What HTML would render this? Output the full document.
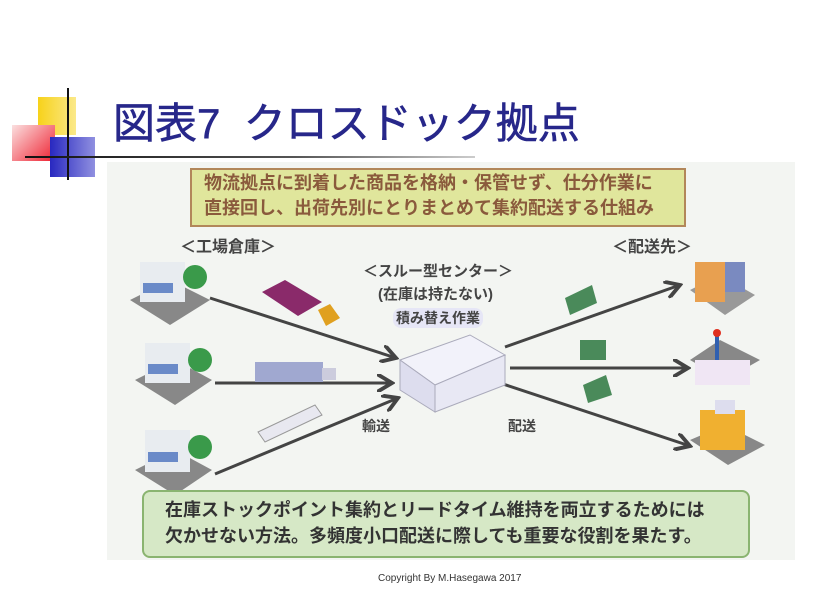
<!DOCTYPE html>
<html><head><meta charset="utf-8"><style>
body{margin:0;width:823px;height:604px;background:#fff;position:relative;overflow:hidden;font-family:"Liberation Sans","Noto Sans CJK JP",sans-serif}
.a{position:absolute}
.t{font-weight:bold;color:#444;font-size:15px;white-space:nowrap}
</style></head><body>
<div class="a" style="left:38px;top:97px;width:38px;height:38px;background:linear-gradient(90deg,#f7d21a,#fbe98a)"></div>
<div class="a" style="left:12px;top:125px;width:43px;height:36px;background:linear-gradient(135deg,#fbe0e0,#ee2030)"></div>
<div class="a" style="left:50px;top:137px;width:45px;height:40px;background:linear-gradient(90deg,#2828c0,#9090e0)"></div>
<div class="a" style="left:67px;top:88px;width:2px;height:92px;background:#111"></div>
<div class="a" style="left:25px;top:156px;width:450px;height:2px;background:linear-gradient(90deg,#111,#555 60%,#ccc)"></div>
<div class="a" style="left:113px;top:90px;font-size:42px;color:#27278a;white-space:nowrap;-webkit-text-stroke:0.6px #27278a">図表7&nbsp; クロスドック拠点</div>
<div class="a" style="left:107px;top:162px;width:688px;height:398px;background:#f3f5f2"></div>
<div class="a" style="left:190px;top:168px;width:492px;height:55px;background:#e0e69c;border:2px solid #b2875a"></div>
<div class="a t" style="left:204px;top:171px;font-size:18px;color:#8a5a3c;line-height:25px">物流拠点に到着した商品を格納・保管せず、仕分作業に<br>直接回し、出荷先別にとりまとめて集約配送する仕組み</div>
<div class="a t" style="left:180px;top:233px;font-size:16px">＜工場倉庫＞</div>
<div class="a t" style="left:612px;top:233px;font-size:16px">＜配送先＞</div>
<div class="a t" style="left:363px;top:260px">＜スルー型センター＞</div>
<div class="a t" style="left:378px;top:283px">(在庫は持たない)</div>
<div class="a t" style="left:393px;top:308px;font-size:14px;background:#e6e6f6;border-radius:8px;padding:0 3px">積み替え作業</div>
<div class="a t" style="left:362px;top:416px;font-size:14px">輸送</div>
<div class="a t" style="left:508px;top:416px;font-size:14px">配送</div>
<svg class="a" style="left:0;top:0" width="823" height="604">
<defs><marker id="m" markerWidth="6" markerHeight="6" refX="5" refY="3" orient="auto"><path d="M0,0 L5,3 L0,6" fill="none" stroke="#444" stroke-width="1.3"/></marker></defs>
<g stroke="#444" stroke-width="3" marker-end="url(#m)">
<line x1="210" y1="298" x2="396" y2="358"/><line x1="215" y1="383" x2="392" y2="383"/><line x1="215" y1="474" x2="398" y2="398"/>
<line x1="505" y1="347" x2="680" y2="285"/><line x1="510" y1="368" x2="688" y2="368"/><line x1="500" y1="383" x2="690" y2="446"/>
</g>
<g>
<polygon points="130,300 170,280 210,300 170,325" fill="#888"/><rect x="140" y="262" width="45" height="40" fill="#e8ecf0"/><rect x="143" y="283" width="30" height="10" fill="#6a8ac8"/><circle cx="195" cy="277" r="12" fill="#3a9a4a"/>
<polygon points="135,380 175,360 212,380 175,405" fill="#888"/><rect x="145" y="343" width="45" height="40" fill="#e8ecf0"/><rect x="148" y="364" width="30" height="10" fill="#6a8ac8"/><circle cx="200" cy="360" r="12" fill="#3a9a4a"/>
<polygon points="135,470 175,450 212,470 175,495" fill="#888"/><rect x="145" y="430" width="45" height="42" fill="#e8ecf0"/><rect x="148" y="452" width="30" height="10" fill="#6a8ac8"/><circle cx="200" cy="447" r="12" fill="#3a9a4a"/>
<polygon points="262,292 285,280 322,302 298,316" fill="#8a2a6a"/><polygon points="318,310 330,304 340,318 326,326" fill="#e0a020"/>
<rect x="255" y="362" width="68" height="20" fill="#a0a8d0"/><rect x="322" y="368" width="14" height="12" fill="#ccd"/>
<polygon points="258,432 315,405 322,415 265,442" fill="#e8e8f0" stroke="#999"/>
<polygon points="565,298 592,285 597,303 570,315" fill="#4a8a5a"/><rect x="580" y="340" width="26" height="20" fill="#4a8a5a"/><polygon points="583,385 606,375 612,395 588,403" fill="#4a8a5a"/>
<polygon points="400,360 470,335 505,355 435,385" fill="#f2f2fa" stroke="#aab"/><polygon points="400,360 435,385 435,412 400,390" fill="#dde" stroke="#aab"/><polygon points="435,385 505,355 505,385 435,412" fill="#e8e8f4" stroke="#aab"/>
<polygon points="690,290 720,275 755,295 725,315" fill="#999"/><rect x="695" y="262" width="30" height="40" fill="#e8a050"/><rect x="725" y="262" width="20" height="30" fill="#7a8ac0"/>
<polygon points="690,360 720,340 760,360 725,380" fill="#888"/><rect x="695" y="360" width="55" height="25" fill="#f0e6f4"/><rect x="715" y="335" width="4" height="25" fill="#3060b0"/><circle cx="717" cy="333" r="4" fill="#e03020"/>
<polygon points="690,440 725,425 765,445 728,465" fill="#888"/><rect x="700" y="410" width="45" height="40" fill="#f0b030"/><rect x="715" y="400" width="20" height="14" fill="#dde"/>
</g>
</svg>
<div class="a" style="left:142px;top:490px;width:604px;height:64px;background:#d6e8c6;border:2px solid #8ab470;border-radius:8px"></div>
<div class="a t" style="left:165px;top:497px;font-size:18px;color:#333;line-height:26px">在庫ストックポイント集約とリードタイム維持を両立するためには<br>欠かせない方法。多頻度小口配送に際しても重要な役割を果たす。</div>
<div class="a" style="left:378px;top:573px;font-size:10px;color:#333">Copyright By M.Hasegawa 2017</div>
</body></html>
